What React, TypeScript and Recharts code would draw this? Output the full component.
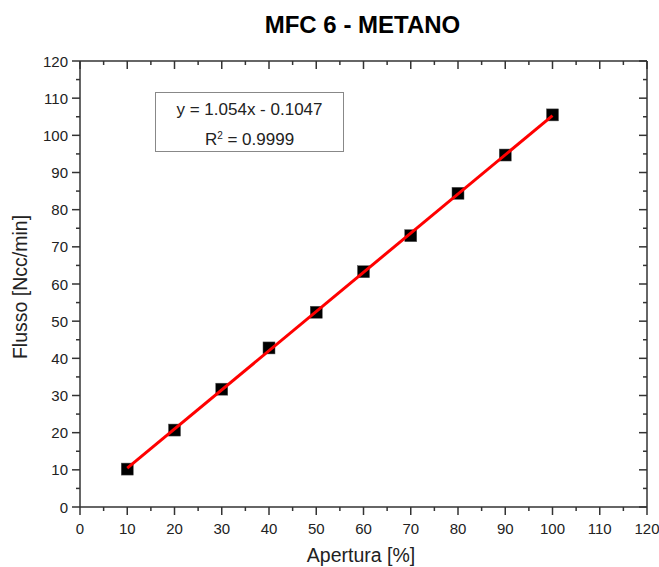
import React from 'react';
import { ComposedChart, Scatter, XAxis, YAxis } from 'recharts';

// Apertura [%] vs Flusso [Ncc/min]
const aperture = [10, 20, 30, 40, 50, 60, 70, 80, 90, 100];
const flusso = [10.2, 20.7, 31.7, 42.8, 52.4, 63.3, 73.0, 84.4, 94.7, 105.5];

// linear fit end points (y = 1.054x - 0.1047)
const fitX = [10, 100];
const fitY = [10.44, 105.3];

const majorTicks = [0, 10, 20, 30, 40, 50, 60, 70, 80, 90, 100, 110, 120];
const minorTicks = [5, 15, 25, 35, 45, 55, 65, 75, 85, 95, 105, 115];
const allTicks = [...majorTicks, ...minorTicks].sort((a, b) => a - b);

const title = 'MFC 6 - METANO';
const xLabel = 'Apertura [%]';
const yLabel = 'Flusso [Ncc/min]';
const eqLine = 'y = 1.054x - 0.1047';

const points = aperture.map((x, i) => ({ x, y: flusso[i] }));
const fitLine = fitX.map((x, i) => ({ x, y: fitY[i] }));

const AXIS = '#333';
const FONT = '"Liberation Sans", Arial, sans-serif';

const makeTick = (side: 'bottom' | 'left' | 'top' | 'right') => (props: any) => {
  const { x, y, payload } = props;
  const major = majorTicks.includes(payload.value);
  const len = major ? 8 : 4;
  let x2 = x, y2 = y;
  if (side === 'bottom' || side === 'top') y2 = y + len;
  else x2 = x - len;
  return (
    <g>
      <line x1={x} y1={y} x2={x2} y2={y2} stroke={AXIS} strokeWidth={1.5} />
      {major && side === 'bottom' && (
        <text x={x} y={y + 21} textAnchor="middle" dominantBaseline="central" fontSize={15} fill="#222" fontFamily={FONT}>
          {payload.value}
        </text>
      )}
      {major && side === 'left' && (
        <text x={x - 12} y={y} textAnchor="end" dominantBaseline="central" fontSize={15} fill="#222" fontFamily={FONT}>
          {payload.value}
        </text>
      )}
    </g>
  );
};

const Square = (props: any) => {
  const { cx, cy } = props;
  return <rect x={cx - 6} y={cy - 6} width={12} height={12} fill="#000" stroke="#555" strokeWidth={0.5} />;
};

export default function App() {
  return (
    <div style={{ position: 'absolute', left: 0, top: 0, width: 659, height: 567, background: '#fff', fontFamily: FONT }}>
      <ComposedChart width={659} height={567} margin={{ top: 60, right: 11, bottom: 30, left: 20 }}>
        <XAxis xAxisId={0} dataKey="x" type="number" domain={[0, 120]} ticks={allTicks} interval={0}
          tickSize={0} tickMargin={0} tick={makeTick('bottom')} stroke={AXIS} strokeWidth={1.5} height={30} />
        <XAxis xAxisId="top" orientation="top" dataKey="x" type="number" domain={[0, 120]} ticks={allTicks} interval={0}
          tickSize={0} tickMargin={0} tick={makeTick('top')} stroke={AXIS} strokeWidth={1.5} height={1} />
        <YAxis yAxisId={0} dataKey="y" type="number" domain={[0, 120]} ticks={allTicks} interval={0}
          tickSize={0} tickMargin={0} tick={makeTick('left')} stroke={AXIS} strokeWidth={1.5} width={60} />
        <YAxis yAxisId="right" orientation="right" dataKey="y" type="number" domain={[0, 120]} ticks={allTicks} interval={0}
          tickSize={0} tickMargin={0} tick={makeTick('right')} stroke={AXIS} strokeWidth={1.5} width={1} />
        <Scatter xAxisId={0} yAxisId={0} data={points} shape={<Square />} isAnimationActive={false} />
        <Scatter xAxisId="top" yAxisId="right" data={fitLine} line={{ stroke: '#f00', strokeWidth: 3 }} shape={() => <g />} isAnimationActive={false} />
      </ComposedChart>
      <div style={{ position: 'absolute', left: 0, width: 659, top: 11, textAlign: 'center', paddingLeft: 66, boxSizing: 'border-box', fontSize: 24, fontWeight: 'bold', color: '#000', lineHeight: '28px' }}>
        {title}
      </div>
      <div style={{ position: 'absolute', left: 261, width: 200, top: 543, textAlign: 'center', fontSize: 19.5, color: '#222', lineHeight: '24px' }}>
        {xLabel}
      </div>
      <div style={{ position: 'absolute', left: 20, top: 287, width: 220, marginLeft: -110, textAlign: 'center', fontSize: 19.5, color: '#222', transform: 'translateY(-50%) rotate(-90deg)', lineHeight: '24px' }}>
        {yLabel}
      </div>
      <div style={{ position: 'absolute', left: 155, top: 92, width: 189, height: 60, border: '1px solid #888', boxSizing: 'border-box', textAlign: 'center', fontSize: 17, color: '#222' }}>
        <div style={{ marginTop: 6, lineHeight: '22px' }}>{eqLine}</div>
        <div style={{ marginTop: 8, lineHeight: '22px' }}>
          R<sup style={{ fontSize: 10, verticalAlign: 'top', position: 'relative', top: -4 }}>2</sup> = 0.9999
        </div>
      </div>
    </div>
  );
}
